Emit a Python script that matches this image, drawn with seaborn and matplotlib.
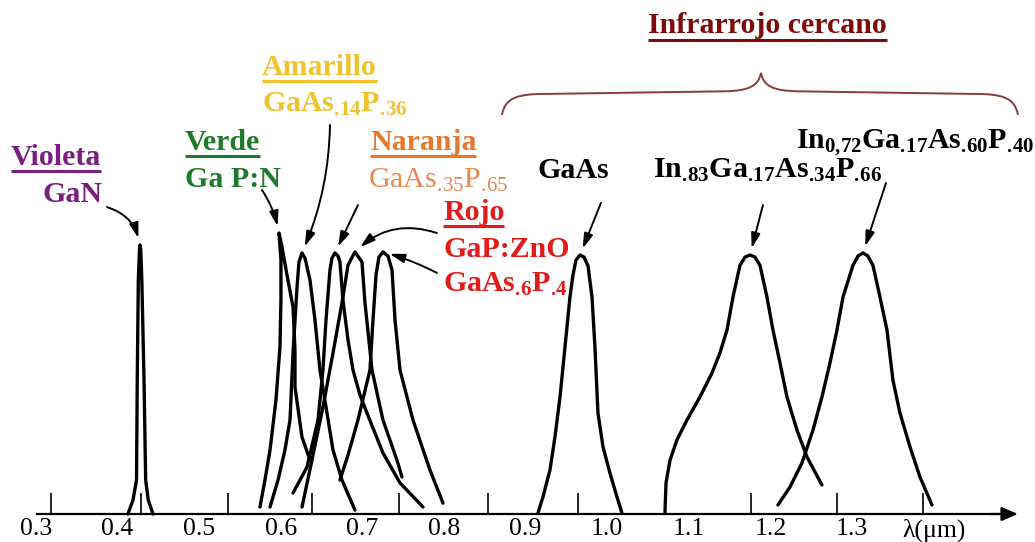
import numpy as np
import pandas as pd
import matplotlib
matplotlib.use("Agg")
import matplotlib.pyplot as plt
import seaborn as sns
from matplotlib.path import Path
from matplotlib.patches import PathPatch

# ---- emission spectra (wavelength in µm, relative intensity) ----
gan_wl = [0.4127, 0.4189, 0.4232, 0.4241, 0.4254, 0.4268, 0.4275, 0.4284, 0.4297, 0.4324, 0.4344, 0.4376, 0.4434]
gan_int = [0.0, 0.054, 0.131, 0.517, 0.903, 1.019, 1.039, 1.019, 0.903, 0.517, 0.131, 0.054, 0.0]

gapn_wl = [0.5745, 0.5806, 0.5868, 0.5941, 0.5990, 0.6002, 0.6002, 0.5978, 0.6015, 0.6076, 0.6150, 0.6174, 0.6174, 0.6260, 0.6358]
gapn_int = [0.027, 0.131, 0.247, 0.440, 0.645, 0.826, 0.981, 1.085, 1.031, 0.923, 0.799, 0.633, 0.490, 0.297, 0.208]

gaas14_wl = [0.5868, 0.5966, 0.6051, 0.6113, 0.6150, 0.6199, 0.6223, 0.6260, 0.6297, 0.6358, 0.6419, 0.6480, 0.6566, 0.6640, 0.6750, 0.6909]
gaas14_int = [0.027, 0.131, 0.247, 0.363, 0.622, 0.876, 0.973, 1.008, 0.988, 0.903, 0.749, 0.556, 0.390, 0.247, 0.131, 0.015]

gaas35_wl = [0.6150, 0.6321, 0.6456, 0.6517, 0.6554, 0.6603, 0.6627, 0.6664, 0.6701, 0.6725, 0.6762, 0.6824, 0.6885, 0.6971, 0.7056, 0.7252, 0.7461, 0.7743]
gaas35_int = [0.081, 0.181, 0.363, 0.556, 0.749, 0.942, 0.988, 1.008, 0.996, 0.973, 0.826, 0.672, 0.556, 0.459, 0.390, 0.236, 0.120, 0.027]

gapzno_wl = [0.6260, 0.6382, 0.6517, 0.6640, 0.6750, 0.6824, 0.6909, 0.6995, 0.7032, 0.7118, 0.7252, 0.7424, 0.7485]
gapzno_int = [0.027, 0.208, 0.413, 0.622, 0.815, 0.961, 1.012, 0.973, 0.815, 0.556, 0.363, 0.208, 0.143]

gaas6_wl = [0.6725, 0.6824, 0.6946, 0.7093, 0.7130, 0.7167, 0.7203, 0.7252, 0.7314, 0.7363, 0.7400, 0.7461, 0.7620, 0.7828, 0.7988]
gaas6_int = [0.131, 0.228, 0.363, 0.556, 0.749, 0.923, 0.992, 1.012, 0.996, 0.942, 0.749, 0.556, 0.363, 0.170, 0.042]

gaas_wl = [0.9152, 0.9213, 0.9299, 0.9360, 0.9422, 0.9483, 0.9544, 0.9581, 0.9618, 0.9667, 0.9716, 0.9765, 0.9814, 0.9850, 0.9887, 0.9949, 1.0034, 1.0120, 1.0181]
gaas_int = [0.004, 0.066, 0.170, 0.297, 0.452, 0.645, 0.838, 0.923, 0.981, 1.0, 0.992, 0.958, 0.838, 0.645, 0.390, 0.259, 0.158, 0.066, 0.004]

in83_wl = [1.0708, 1.0721, 1.0770, 1.0855, 1.0978, 1.1137, 1.1284, 1.1382, 1.1468, 1.1542, 1.1627, 1.1689, 1.1750, 1.1811, 1.1873, 1.1958, 1.2032, 1.2118, 1.2203, 1.2326, 1.2449, 1.2632]
in83_int = [0.004, 0.120, 0.208, 0.286, 0.363, 0.452, 0.544, 0.622, 0.710, 0.838, 0.960, 0.992, 1.0, 0.992, 0.960, 0.838, 0.710, 0.583, 0.452, 0.324, 0.220, 0.112]

in72_wl = [1.2093, 1.2240, 1.2387, 1.2522, 1.2632, 1.2730, 1.2816, 1.2890, 1.3012, 1.3074, 1.3135, 1.3196, 1.3257, 1.3343, 1.3429, 1.3502, 1.3588, 1.3711, 1.3833, 1.3980]
in72_int = [0.035, 0.104, 0.197, 0.324, 0.452, 0.583, 0.710, 0.838, 0.960, 0.996, 1.008, 0.996, 0.960, 0.838, 0.710, 0.517, 0.390, 0.259, 0.143, 0.035]

# axis labels
tick_values = [0.3, 0.4, 0.5, 0.6, 0.7, 0.8, 0.9, 1.0, 1.1, 1.2, 1.3, 1.4]
tick_labels = ["0.3", "0.4", "0.5", "0.6", "0.7", "0.8", "0.9", "1.0", "1.1", "1.2", "1.3", "λ(μm)"]
tick_marks = [0.3184, 0.4287, 0.5353, 0.6382, 0.7449, 0.8539, 0.9642, 1.0708, 1.1762, 1.2816, 1.3870]

curves = {
    "GaN": (gan_wl, gan_int),
    "GaP:N": (gapn_wl, gapn_int),
    "GaAs.14P.36": (gaas14_wl, gaas14_int),
    "GaAs.35P.65": (gaas35_wl, gaas35_int),
    "GaP:ZnO": (gapzno_wl, gapzno_int),
    "GaAs.6P.4": (gaas6_wl, gaas6_int),
    "GaAs": (gaas_wl, gaas_int),
    "In.83Ga.17As.34P.66": (in83_wl, in83_int),
    "In.72Ga.17As.60P.40": (in72_wl, in72_int),
}
df = pd.concat(
    [pd.DataFrame({"wl": w, "I": i, "curve": k}) for k, (w, i) in curves.items()],
    ignore_index=True,
)

sns.set_theme(style="white")
plt.rcParams["font.family"] = ["Liberation Serif", "DejaVu Serif"]
plt.rcParams["mathtext.fontset"] = "custom"
plt.rcParams["mathtext.rm"] = "Liberation Serif"
plt.rcParams["mathtext.bf"] = "Liberation Serif:bold"
plt.rcParams["mathtext.it"] = "Liberation Serif:italic"

fig = plt.figure(figsize=(10.35, 5.42), dpi=100)
ax = fig.add_axes([0, 0, 1, 1])
ax.set_xlim(0.2559, 1.5243)
ax.set_ylim(-0.1081, 1.9846)

sns.lineplot(data=df, x="wl", y="I", units="curve", estimator=None, sort=False,
             color="black", lw=2.4, legend=False, ax=ax)
for ln in ax.get_lines():
    ln.set_solid_joinstyle("round")
    ln.set_solid_capstyle("round")

# wavelength axis with arrow
for s in ["top", "left", "right"]:
    ax.spines[s].set_visible(False)
ax.spines["bottom"].set_position(("data", 0))
ax.spines["bottom"].set_bounds(0.3012, 1.48)
ax.spines["bottom"].set_linewidth(1.6)
ax.spines["bottom"].set_color("black")
ax.annotate("", xy=(1.5034, 0), xytext=(1.47, 0),
            arrowprops=dict(arrowstyle="-|>,head_length=0.7,head_width=0.3", mutation_scale=14,
                            color="black", lw=1.6, shrinkA=0, shrinkB=0))
ax.set_yticks([])
ax.set_xticks(tick_values)
ax.set_xticklabels(tick_labels, fontsize=18.5)
ax.set_xticks(tick_marks, minor=True)
ax.tick_params(axis="x", which="major", length=0, pad=3, colors="black")
ax.tick_params(axis="x", which="minor", direction="in", length=15, width=1.2, color="black", bottom=True)
ax.set_xlabel("")
ax.set_ylabel("")

PURPLE = "#7a1f7f"
GREEN = "#1f7a2c"
GOLD = "#f0c22c"
ORANGE = "#e9782f"
ORANGE_LT = "#ea8650"
RED = "#e21b1b"
DARKRED = "#7e0c0c"

FS = 21.5
texts_ul = []

def label(x, y, s, color, bold=True, ul=False, size=FS, gap=6):
    t = ax.text(x, y, s, color=color, fontsize=size, fontweight="bold" if bold else "normal",
                ha="left", va="baseline")
    if ul:
        texts_ul.append((t, color, gap))
    return t

# "\!" cancels the extra gap mathtext puts after a period
label(0.2694, 1.347, "Violeta", PURPLE, ul=True)
label(0.3074, 1.205, "GaN", PURPLE)
label(0.4826, 1.405, "Verde", GREEN, ul=True)
label(0.4826, 1.263, "Ga P:N", GREEN)
label(0.5770, 1.695, "Amarillo", GOLD, ul=True)
label(0.5770, 1.552, r"$\mathbf{GaAs_{.\!14}P_{.\!36}}$", GOLD)
label(0.7093, 1.405, "Naranja", ORANGE, ul=True)
label(0.7069, 1.259, r"$\mathrm{GaAs_{.\!35}P_{.\!65}}$", ORANGE_LT, bold=False)
label(0.7988, 1.135, "Rojo", RED, ul=True)
label(0.7988, 0.992, "GaP:ZnO", RED)
label(0.7988, 0.857, r"$\mathbf{GaAs_{.\!6}P_{.\!4}}$", RED)
label(1.0500, 1.857, "Infrarrojo cercano", DARKRED, ul=True, gap=7)
label(0.9152, 1.297, "GaAs", "black")
label(1.0561, 1.297, r"$\mathbf{In_{.\!83}Ga_{.\!17}As_{.\!34}P_{.\!66}}$", "black")
label(1.2314, 1.413, r"$\mathbf{In_{0{,}72}Ga_{.\!17}As_{.\!60}P_{.\!40}}$", "black")

# underlines beneath the headings
fig.canvas.draw()
inv = ax.transData.inverted()
for t, color, gap in texts_ul:
    bb = t.get_window_extent()
    base = ax.transData.transform(t.get_position())[1]
    (x0, y0) = inv.transform((bb.x0, base - gap))
    (x1, _) = inv.transform((bb.x1, base - gap))
    ax.plot([x0, x1], [y0, y0], color=color, lw=2.2, solid_capstyle="butt")

# arrows from the compositions to their peaks
arrow_specs = [
    ("GaN", (0.3870, 1.185), -0.3),
    ("GaP:N", (0.5770, 1.251), -0.1),
    ("GaAs.14P.36", (0.6603, 1.502), -0.1),
    ("GaAs.35P.65", (0.6946, 1.193), 0.0),
    ("GaP:ZnO", (0.7914, 1.085), 0.3),
    ("GaAs.6P.4", (0.7914, 0.931), 0.05),
    ("GaAs", (0.9924, 1.201), 0.0),
    ("In.83Ga.17As.34P.66", (1.1909, 1.193), 0.0),
    ("In.72Ga.17As.60P.40", (1.3417, 1.278), 0.0),
]
for name, start, rad in arrow_specs:
    sub = df[df["curve"] == name]
    pk = sub.loc[sub["I"].idxmax()]
    ax.annotate("", xy=(pk["wl"], pk["I"]), xytext=start,
                arrowprops=dict(arrowstyle="-|>,head_length=0.6,head_width=0.18", mutation_scale=15,
                                color="black", lw=1.4, shrinkA=0, shrinkB=5,
                                connectionstyle=f"arc3,rad={rad}"))

# brace spanning the near-infrared sources
L, R, tip = 0.8711, 1.5034, 1.1885
base_y, flat_y, top_y = 1.541, 1.622, 1.703
verts = [
    (L, base_y),
    (L + 0.004, flat_y - 0.012), (L + 0.02, flat_y), (L + 0.055, flat_y),
    (tip - 0.045, flat_y + 0.01),
    (tip - 0.015, flat_y + 0.012), (tip - 0.003, flat_y + 0.03), (tip, top_y),
    (tip + 0.003, flat_y + 0.03), (tip + 0.015, flat_y + 0.012), (tip + 0.045, flat_y + 0.01),
    (R - 0.055, flat_y),
    (R - 0.02, flat_y), (R - 0.004, flat_y - 0.012), (R, base_y),
]
codes = [Path.MOVETO] + [Path.CURVE4] * 3 + [Path.LINETO] + [Path.CURVE4] * 6 + [Path.LINETO] + [Path.CURVE4] * 3
ax.add_patch(PathPatch(Path(verts, codes), fill=False, edgecolor="#8a3b3b", lw=1.4))

fig.savefig("out.png", dpi=100, facecolor="white")
